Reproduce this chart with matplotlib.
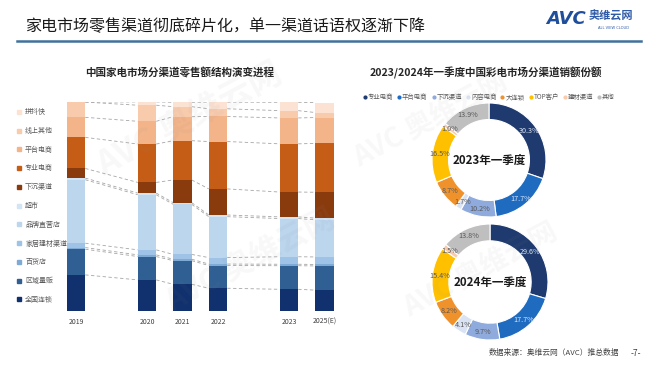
import numpy as np
import matplotlib
matplotlib.use('Agg')
import matplotlib.pyplot as plt
from matplotlib.lines import Line2D

plt.rcParams['font.family'] = ['Noto Sans CJK SC', 'DejaVu Sans']

# ---- left chart: retail share by channel (%), blank slots as in the source sheet
years = ['2019', '', '2020', '2021', '2022', '', '2023', '2025(E)']
nan = np.nan
quanguo   = [17.3, nan, 14.9, 12.8, 10.9, nan, 10.4, 10.0]   # 全国连锁
quyu      = [12.3, nan, 11.2, 11.3, 10.9, nan, 11.3, 11.6]   # 区域量贩
baihuo    = [0.8, nan, 0.8, 0.7, 0.7, nan, 0.7, 0.7]         # 百货店
jiaju     = [2.1, nan, 2.4, 2.3, 3.1, nan, 3.6, 3.6]         # 家居建材渠道
zhiying   = [30.4, nan, 26.4, 24.0, 19.6, nan, 18.3, 17.8]   # 品牌直营店
chaoshi   = [0.8, nan, 0.8, 0.8, 0.8, nan, 0.8, 0.8]         # 超市
xiachen   = [4.6, nan, 5.1, 10.9, 12.5, nan, 11.9, 12.4]     # 下沉渠道
zhuanye   = [14.9, nan, 18.4, 18.8, 22.7, nan, 23.1, 23.4]   # 专业电商
pingtai   = [9.6, nan, 10.9, 11.5, 12.0, nan, 12.4, 12.4]    # 平台电商
xianshang = [7.3, nan, 7.7, 4.8, 3.7, nan, 3.5, 2.4]         # 线上其他
pindoukuai = [0.0, nan, 1.6, 2.1, 3.2, nan, 4.0, 4.8]        # 拼抖快

channels = ['全国连锁', '区域量贩', '百货店', '家居建材渠道', '品牌直营店', '超市',
            '下沉渠道', '专业电商', '平台电商', '线上其他', '拼抖快']
series = [quanguo, quyu, baihuo, jiaju, zhiying, chaoshi,
          xiachen, zhuanye, pingtai, xianshang, pindoukuai]
bar_colors = ['#10306E', '#2F5F93', '#7FAAD6', '#9EC3E6', '#BCD6EE', '#D3E4F4',
              '#8A3B0E', '#C55D17', '#F3B48A', '#F8CBAD', '#FBE2D2']

# ---- right charts: TV sales share by channel, Q1 (%)
pie_channels = ['专业电商', '平台电商', '下沉渠道', '内容电商', '大连锁', 'TOP客户', '建材渠道', '其他']
share_2023 = [30.3, 17.7, 10.2, 1.7, 8.7, 16.5, 1.0, 13.9]
share_2024 = [29.6, 17.7, 9.7, 4.1, 8.2, 15.4, 1.5, 13.8]
pie_colors = ['#1F3A6E', '#1F6BC0', '#8FAADC', '#DAE3F3', '#F0922C', '#FFC000', '#F8CBAD', '#BFBFBF']

W, H = 660, 372
fig = plt.figure(figsize=(6.6, 3.72), dpi=100)

def fx(px):
    return px / W

def fy(py):
    return 1 - py / H

# header
fig.text(fx(25), fy(27), '家电市场零售渠道彻底碎片化，单一渠道话语权逐渐下降',
         fontsize=11.5, color='#1A1A1A', va='center', ha='left')
fig.add_artist(Line2D([fx(17), fx(641)], [fy(41), fy(41)], color='#41719C', lw=1.8))
fig.text(fx(546), fy(19), 'AVC', fontsize=13, weight='heavy', style='italic',
         color='#1F4E9A', va='center', ha='left', family='DejaVu Sans')
fig.text(fx(589), fy(16), '奥维云网', fontsize=8, weight='bold', color='#2F5AA8',
         va='center', ha='left')
fig.text(fx(613), fy(28), 'ALL VIEW CLOUD', fontsize=2.6, color='#2F5AA8',
         va='center', ha='center', family='DejaVu Sans')

# faint watermarks
for (x, y, fs) in [(190, 120, 24), (250, 260, 22), (430, 120, 20), (480, 270, 20)]:
    fig.text(fx(x), fy(y), 'AVC 奥维云网', fontsize=fs, rotation=28, color='#8C8C8C',
             alpha=0.06, ha='center', va='center', weight='bold', zorder=10)

# ---- stacked bars
ax = fig.add_axes([fx(58.25), fy(311), fx(284), (311 - 102.3) / H])
x = np.arange(len(years))
w = 0.52
data = np.array(series, dtype=float)
bottom = np.zeros(len(years))
for vals, col, name in zip(data, bar_colors, channels):
    ax.bar(x, vals, w, bottom=bottom, color=col, label=name, zorder=2, linewidth=0)
    bottom = bottom + np.nan_to_num(vals)

# series lines between neighbouring bars
cum = np.cumsum(data, axis=0)
valid = [i for i in range(len(years)) if not np.isnan(data[0, i])]
for a, b in zip(valid[:-1], valid[1:]):
    for k in range(cum.shape[0]):
        ax.plot([a + w / 2, b - w / 2], [cum[k, a], cum[k, b]], color='#A6A6A6',
                lw=0.6, ls=(0, (4, 3)), zorder=1)

ax.set_xlim(-0.5, len(years) - 0.5)
ax.set_ylim(0, 100)
ax.set_xticks(x)
ax.set_xticklabels(years, fontsize=5, color='#404040')
ax.tick_params(axis='x', length=0, pad=5)
ax.set_yticks([])
for s in ax.spines.values():
    s.set_visible(False)

fig.text(fx(180), fy(73), '中国家电市场分渠道零售额结构演变进程', fontsize=7.6,
         weight='bold', color='#262626', ha='center', va='center')

handles = [Line2D([], [], marker='s', ls='', markersize=2.2, color=c) for c in bar_colors]
fig.legend(handles[::-1], channels[::-1], loc='center left',
           bbox_to_anchor=(fx(14), fy(206)), frameon=False, fontsize=5,
           labelcolor='#595959', labelspacing=1.55, handlelength=0.6,
           handletextpad=0.6, borderaxespad=0)

# ---- donuts
fig.text(fx(486), fy(73), '2023/2024年一季度中国彩电市场分渠道销额份额', fontsize=7.6,
         weight='bold', color='#262626', ha='center', va='center')
pie_handles = [Line2D([], [], marker='o', ls='', markersize=2, color=c) for c in pie_colors]
fig.legend(pie_handles, pie_channels, loc='center', bbox_to_anchor=(fx(489), fy(97)),
           ncol=len(pie_channels), frameon=False, fontsize=4.6, labelcolor='#595959',
           handlelength=0.5, handletextpad=0.2, columnspacing=0.7, borderaxespad=0)

for share, (cx, cy, r), title in [(share_2023, (489, 160, 57), '2023年一季度'),
                                  (share_2024, (490, 282, 58), '2024年一季度')]:
    pax = fig.add_axes([fx(cx - r), fy(cy + r), fx(2 * r), 2 * r / H])
    wedges, _, autotexts = pax.pie(share, colors=pie_colors, startangle=90, counterclock=False,
                                   autopct='%.1f%%', pctdistance=0.87,
                                   wedgeprops=dict(width=0.29, edgecolor='white', linewidth=0.8),
                                   textprops=dict(fontsize=5.2, color='#595959'))
    for t, col in zip(autotexts, pie_colors):
        if col in ('#1F3A6E', '#1F6BC0'):
            t.set_color('#DCE6F5')
    pax.set_xlim(-1, 1)
    pax.set_ylim(-1, 1)
    pax.set_aspect('equal')
    pax.text(0, 0, title, fontsize=8.3, weight='bold', color='#1A1A1A', ha='center', va='center')

# footer
fig.text(fx(554), fy(353), '数据来源：奥维云网（AVC）推总数据', fontsize=5.6,
         color='#404040', ha='center', va='center')
fig.text(fx(636), fy(353), '-7-', fontsize=6, color='#404040', ha='center', va='center')

fig.savefig('out.png', dpi=100)
